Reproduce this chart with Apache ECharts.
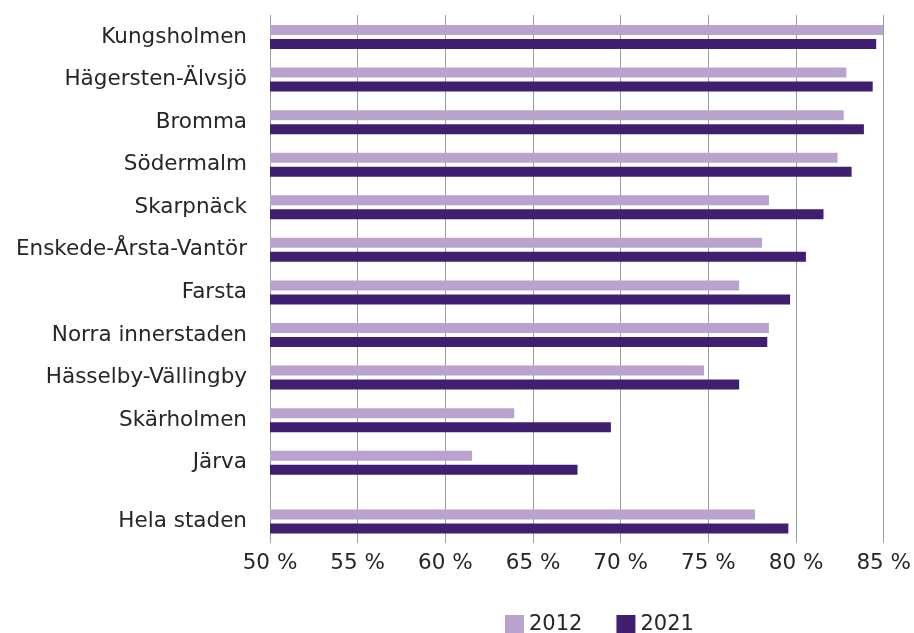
<!DOCTYPE html>
<html>
<head>
<meta charset="utf-8">
<script src="https://cdn.jsdelivr.net/npm/echarts@6/dist/echarts.min.js"></script>
<style>
  html, body { margin: 0; padding: 0; background: #fff; }
  #chart { width: 914px; height: 633px; }
</style>
</head>
<body>
<div id="chart"></div>
<script>
// stadsdelar (uppifrån och ned)
const districts = ['Kungsholmen', 'Hägersten-Älvsjö', 'Bromma', 'Södermalm', 'Skarpnäck',
  'Enskede-Årsta-Vantör', 'Farsta', 'Norra innerstaden', 'Hässelby-Vällingby', 'Skärholmen', 'Järva'];
const values2012 = [84.9, 82.8, 82.65, 82.3, 78.4, 78.0, 76.7, 78.4, 74.7, 63.9, 61.5];
const values2021 = [84.5, 84.3, 83.8, 83.1, 81.5, 80.5, 79.6, 78.3, 76.7, 69.4, 67.5];

// hela staden visas separat längst ned
const totalCategory = ['Hela staden'];
const total2012 = [77.6];
const total2021 = [79.5];

const seriesNames = ['2012', '2021'];
const xMin = 50, xMax = 85, xStep = 5;

const colLight = '#b9a3cc';
const colDark = '#401e70';
const font = "'DejaVu Sans', sans-serif";
const textCol = '#262626';

const chart = echarts.init(document.getElementById('chart'));

const hiddenX = (i) => ({
  type: 'value', gridIndex: i, min: xMin, max: xMax, interval: xStep, show: false
});
const catY = (i, data) => ({
  type: 'category', gridIndex: i, data: data, inverse: true,
  axisLine: { show: false }, axisTick: { show: false },
  axisLabel: { margin: 23, fontSize: 21.5, color: textCol, fontFamily: font }
});
const bar = (name, i, data, color) => ({
  name: name, type: 'bar', xAxisIndex: i, yAxisIndex: i, data: data,
  barWidth: 10, barGap: '40%', itemStyle: { color: color }, silent: true
});

const option = {
  animation: false,
  grid: [
    // bakgrund: stödlinjer och x-axelns etiketter
    { left: 270, right: 29, top: 15, bottom: 90 },
    { left: 270, right: 29, top: 15.7, height: 468.3 },
    { left: 270, right: 29, top: 500, height: 43 }
  ],
  xAxis: [
    {
      type: 'value', gridIndex: 0, min: xMin, max: xMax, interval: xStep,
      axisLine: { show: false }, axisTick: { show: false },
      splitLine: { show: true, lineStyle: { color: '#9a9da1', width: 1 } },
      axisLabel: { formatter: '{value} %', fontSize: 21.5, color: textCol, fontFamily: font, margin: 9 }
    },
    hiddenX(1),
    hiddenX(2)
  ],
  yAxis: [
    { type: 'value', gridIndex: 0, show: false, min: 0, max: 1 },
    catY(1, districts),
    catY(2, totalCategory)
  ],
  legend: {
    data: seriesNames,
    left: 505, top: 614, padding: 0,
    icon: 'rect', itemWidth: 19, itemHeight: 19, itemGap: 34,
    textStyle: { fontSize: 21, lineHeight: 19, color: textCol, fontFamily: font }
  },
  series: [
    bar(seriesNames[0], 1, values2012, colLight),
    bar(seriesNames[1], 1, values2021, colDark),
    bar(seriesNames[0], 2, total2012, colLight),
    bar(seriesNames[1], 2, total2021, colDark)
  ]
};

chart.setOption(option);
</script>
</body>
</html>
